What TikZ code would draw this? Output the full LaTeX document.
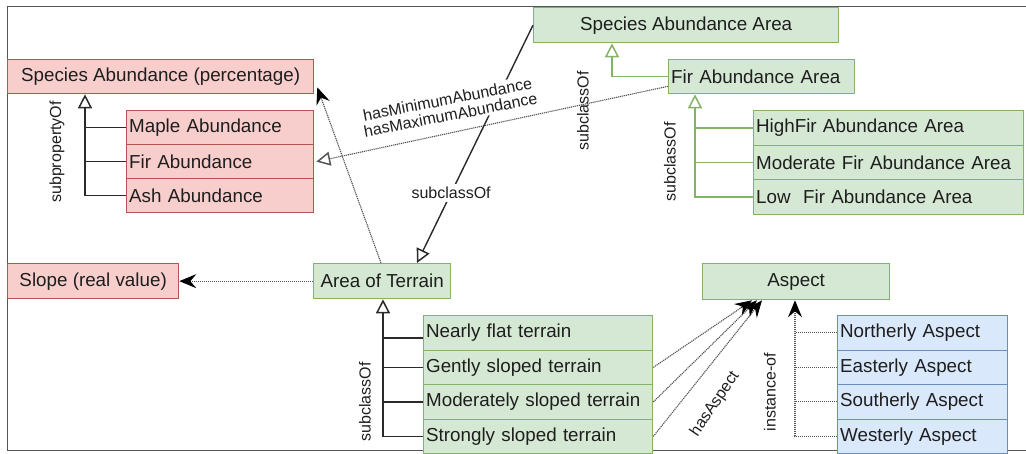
\documentclass[tikz,border=0pt]{standalone}
\usepackage{fontspec}
\setmainfont{Liberation Sans}
\usetikzlibrary{arrows.meta,calc}
\definecolor{rfill}{HTML}{F8CECC}
\definecolor{rdraw}{HTML}{B85450}
\definecolor{gfill}{HTML}{D5E8D4}
\definecolor{gdraw}{HTML}{82B366}
\definecolor{bfill}{HTML}{DAE8FC}
\definecolor{bdraw}{HTML}{6C8EBF}
\definecolor{txt}{HTML}{1E1E1E}
\definecolor{lin}{HTML}{2A2A2A}
\definecolor{dotc}{HTML}{555555}
\begin{document}
\begin{tikzpicture}[x=1pt,y=-1pt,
  box/.style={draw, line width=1.3pt, inner xsep=0pt, inner ysep=0pt, anchor=north west,
              font=\fontsize{18.8}{21}\selectfont, text=txt},
  rbox/.style={box, fill=rfill, draw=rdraw},
  gbox/.style={box, fill=gfill, draw=gdraw},
  bbox/.style={box, fill=bfill, draw=bdraw},
  lst/.style={text width=#1, align=left, inner xsep=2.5pt},
  lbl/.style={font=\fontsize{16}{18}\selectfont, text=txt, inner sep=1pt, align=center},
  tree/.style={draw=lin, line width=1.4pt},
  gtree/.style={draw=gdraw, line width=1.4pt},
  dotline/.style={draw=dotc, line width=1.1pt, dash pattern=on 1.2pt off 0.8pt},
  tri/.style={-{Triangle[length=14pt,width=14pt,fill=white,line width=1.5pt]}},
  stl/.style={-{Stealth[length=17pt,width=14pt,inset=6pt,color=black]}}
]
\useasboundingbox (0,0) rectangle (1026,453);
% frame
\draw[draw=dotc, line width=1pt] (1026,6) -- (7,6) -- (7,450) -- (1026,450);

% red boxes
\node[rbox, minimum width=306pt, minimum height=34pt] (sap) at (7,59) {Species Abundance (percentage)};
\node[rbox, lst=182pt, minimum height=34pt] (maple) at (126,110) {Maple Abundance};
\node[rbox, lst=182pt, minimum height=34pt] (fir) at (126,144) {Fir Abundance};
\node[rbox, lst=182pt, minimum height=34pt] (ash) at (126,178) {Ash Abundance};
\node[rbox, minimum width=171pt, minimum height=35pt] (slope) at (7,263) {Slope (real value)};

% green boxes
\node[gbox, minimum width=305pt, minimum height=35pt] (saa) at (533,7) {Species Abundance Area};
\node[gbox, lst=181pt, minimum height=34pt] (faa) at (668,59) {Fir Abundance Area};
\node[gbox, lst=265pt, minimum height=34.5pt] (high) at (753,110) {HighFir Abundance Area};
\node[gbox, lst=265pt, minimum height=34.5pt] (moderate) at (753,144.5) {Moderate Fir Abundance Area};
\node[gbox, lst=265pt, minimum height=34.5pt] (low) at (753,179) {Low\ \ Fir Abundance Area};
\node[gbox, minimum width=137pt, minimum height=35pt] (aot) at (313,263) {Area of Terrain};
\node[gbox, lst=224pt, minimum height=34.5pt] (nearly) at (423,315) {Nearly flat terrain};
\node[gbox, lst=224pt, minimum height=34.5pt] (gently) at (423,349.5) {Gently sloped terrain};
\node[gbox, lst=224pt, minimum height=34.5pt] (moderately) at (423,384) {Moderately sloped terrain};
\node[gbox, lst=224pt, minimum height=34.5pt] (strongly) at (423,418.5) {Strongly sloped terrain};
\node[gbox, minimum width=187pt, minimum height=36pt] (aspect) at (702,263) {Aspect};

% blue boxes
\node[bbox, lst=165pt, minimum height=34.5pt] (nAsp) at (837,315) {Northerly Aspect};
\node[bbox, lst=165pt, minimum height=34.5pt] (eAsp) at (837,349.5) {Easterly Aspect};
\node[bbox, lst=165pt, minimum height=34.5pt] (sAsp) at (837,384) {Southerly Aspect};
\node[bbox, lst=165pt, minimum height=34.5pt] (wAsp) at (837,418.5) {Westerly Aspect};

% subpropertyOf tree
\coordinate (spx) at (85,0);
\draw[tree, tri] (ash.west) -| (sap.south -| spx);
\draw[tree] (maple.west) -- (maple.west -| spx);
\draw[tree] (fir.west) -- (fir.west -| spx);

% green trees
\coordinate (gxa) at (612,0);
\draw[gtree, tri] (faa.west) -| (saa.south -| gxa);
\coordinate (gxb) at (695,0);
\draw[gtree, tri] (low.west) -| (faa.south -| gxb);
\draw[gtree] (high.west) -- (high.west -| gxb);
\draw[gtree] (moderate.west) -- (moderate.west -| gxb);

% terrain tree
\coordinate (axx) at (383,0);
\draw[tree, tri] (strongly.west) -| (aot.south -| axx);
\draw[tree] ([yshift=-5pt]nearly.west) -- ([yshift=-5pt]nearly.west -| axx);
\draw[tree] (gently.west) -- (gently.west -| axx);
\draw[tree] (moderately.west) -- (moderately.west -| axx);

% instance-of
\coordinate (ixx) at (795,0);
\draw[dotline, stl] (wAsp.west) -| (aspect.south -| ixx);
\draw[dotline] (nAsp.west) -- (nAsp.west -| ixx);
\draw[dotline] (eAsp.west) -- (eAsp.west -| ixx);
\draw[dotline] (sAsp.west) -- (sAsp.west -| ixx);

% hasAspect
\draw[dotline, stl] (gently.east) -- ([xshift=50pt]aspect.south west);
\draw[dotline, stl] (moderately.east) -- ([xshift=55pt]aspect.south west);
\draw[dotline, stl] (strongly.east) -- ([xshift=60pt]aspect.south west);

% slope and percentage
\draw[dotline, stl] (aot.west) -- (slope.east);
\draw[dotline, stl] ([xshift=68pt]aot.north west) -- ([xshift=3pt,yshift=7pt]sap.south east);

% fir abundance area -> fir abundance
\draw[dotline, tri] ([yshift=8pt]faa.south west) -- ([xshift=2pt]fir.east);

% species abundance area -> area of terrain
\draw[tree, tri] (saa.west) -- node[lbl, fill=white, pos=0.706, inner sep=3pt] (scl) {subclassOf} ([xshift=104pt]aot.north west);

% labels
\node[lbl, fill=white, rotate=11, inner sep=2pt] (hm) at (449,107) {hasMinimumAbundance\\[-2pt]hasMaximumAbundance};
\node[lbl, rotate=90] (l1) at (57,152) {subpropertyOf};
\node[lbl, rotate=90] (l2) at (583,111) {subclassOf};
\node[lbl, rotate=90] (l3) at (670,162) {subclassOf};
\node[lbl, rotate=90] (l4) at (365,402) {subclassOf};
\node[lbl, rotate=90] (l5) at (770,392) {instance-of};
\node[lbl, rotate=56] (l6) at (715,404) {hasAspect};
\end{tikzpicture}
\end{document}
